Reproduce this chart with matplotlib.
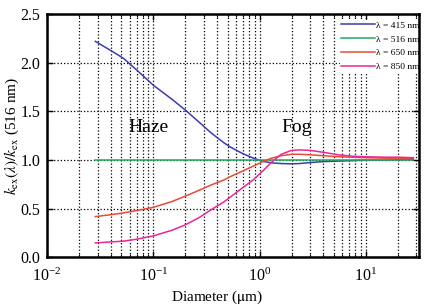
import matplotlib
matplotlib.use("Agg")
import matplotlib.pyplot as plt
from matplotlib.ticker import LogLocator, MultipleLocator

plt.rcParams['font.family'] = ['Liberation Serif', 'DejaVu Serif']
plt.rcParams['mathtext.fontset'] = 'stix'

diam = [0.0285, 0.04, 0.0525, 0.07, 0.1, 0.15, 0.2, 0.27, 0.35, 0.46, 0.53, 0.7, 0.88, 1.1, 1.3, 1.6, 2.0, 2.4, 3.0, 4.0, 5.5, 7.5, 10, 15, 20, 28]
k415 = [2.22, 2.125, 2.045, 1.925, 1.77, 1.625, 1.515, 1.39, 1.28, 1.18, 1.135, 1.065, 1.02, 0.985, 0.972, 0.965, 0.962, 0.965, 0.975, 0.985, 0.99, 0.995, 1.0, 1.0, 1.005, 1.005]
k516 = [1.0] * len(diam)
k650 = [0.42, 0.44, 0.458, 0.482, 0.515, 0.575, 0.63, 0.69, 0.745, 0.795, 0.83, 0.89, 0.94, 0.99, 1.02, 1.045, 1.06, 1.06, 1.055, 1.045, 1.035, 1.03, 1.025, 1.02, 1.02, 1.02]
k850 = [0.15, 0.16, 0.168, 0.188, 0.222, 0.28, 0.335, 0.41, 0.49, 0.57, 0.62, 0.72, 0.80, 0.90, 0.98, 1.06, 1.10, 1.105, 1.10, 1.08, 1.055, 1.04, 1.035, 1.03, 1.03, 1.025]

series = [
    (k415, '#3c3cb0', 'λ = 415 nm'),
    (k516, '#1fae5c', 'λ = 516 nm'),
    (k650, '#e84a35', 'λ = 650 nm'),
    (k850, '#ee2595', 'λ = 850 nm'),
]

fig = plt.figure(figsize=(4.27, 3.06), dpi=100)
ax = fig.add_axes([0.110, 0.1585, 0.871, 0.7955])

for vals, col, lab in series:
    ax.plot(diam, vals, color=col, lw=1.1, label=lab)

ax.set_xscale('log')
ax.set_xlim(0.01, 31.6)
ax.set_ylim(0, 2.5)
ax.yaxis.set_major_locator(MultipleLocator(0.5))
ax.xaxis.set_major_locator(LogLocator(base=10, numticks=10))
ax.xaxis.set_minor_locator(LogLocator(base=10, subs=range(2, 10), numticks=20))

ax.grid(True, which='major', color='black', linestyle=':', lw=0.9)
ax.grid(True, which='minor', axis='x', color='black', linestyle=':', lw=0.9)

for s in ax.spines.values():
    s.set_linewidth(1.8)

ax.tick_params(which='both', direction='in', top=True, right=True, labelsize=11.5)
ax.tick_params(which='major', length=4, width=1.0)
ax.tick_params(which='minor', length=2.5, width=0.8)
ax.tick_params(axis='y', pad=5)
ax.tick_params(axis='x', pad=7)

ax.set_xlabel(r'Diameter ($\mathrm{\mu}$m)', fontsize=11)
ax.xaxis.set_label_coords(0.457, -0.13)
ax.set_ylabel(r'$k_{\rm ex}(\lambda)/k_{\rm ex}$ (516 nm)', fontsize=11)
ax.yaxis.set_label_coords(-0.07, 0.5)

ax.text(0.09, 1.34, 'Haze', fontsize=14, ha='center', va='center')
ax.text(2.23, 1.34, 'Fog', fontsize=14, ha='center', va='center')

leg = ax.legend(loc='upper right', bbox_to_anchor=(1.005, 0.975), fontsize=6.8,
                frameon=True, framealpha=1, edgecolor='white', fancybox=False,
                handlelength=3.6, handletextpad=0.1, labelspacing=0.55,
                borderpad=0.1, borderaxespad=0.0)
leg.set_zorder(2.4)

fig.savefig('out.png', dpi=100)
